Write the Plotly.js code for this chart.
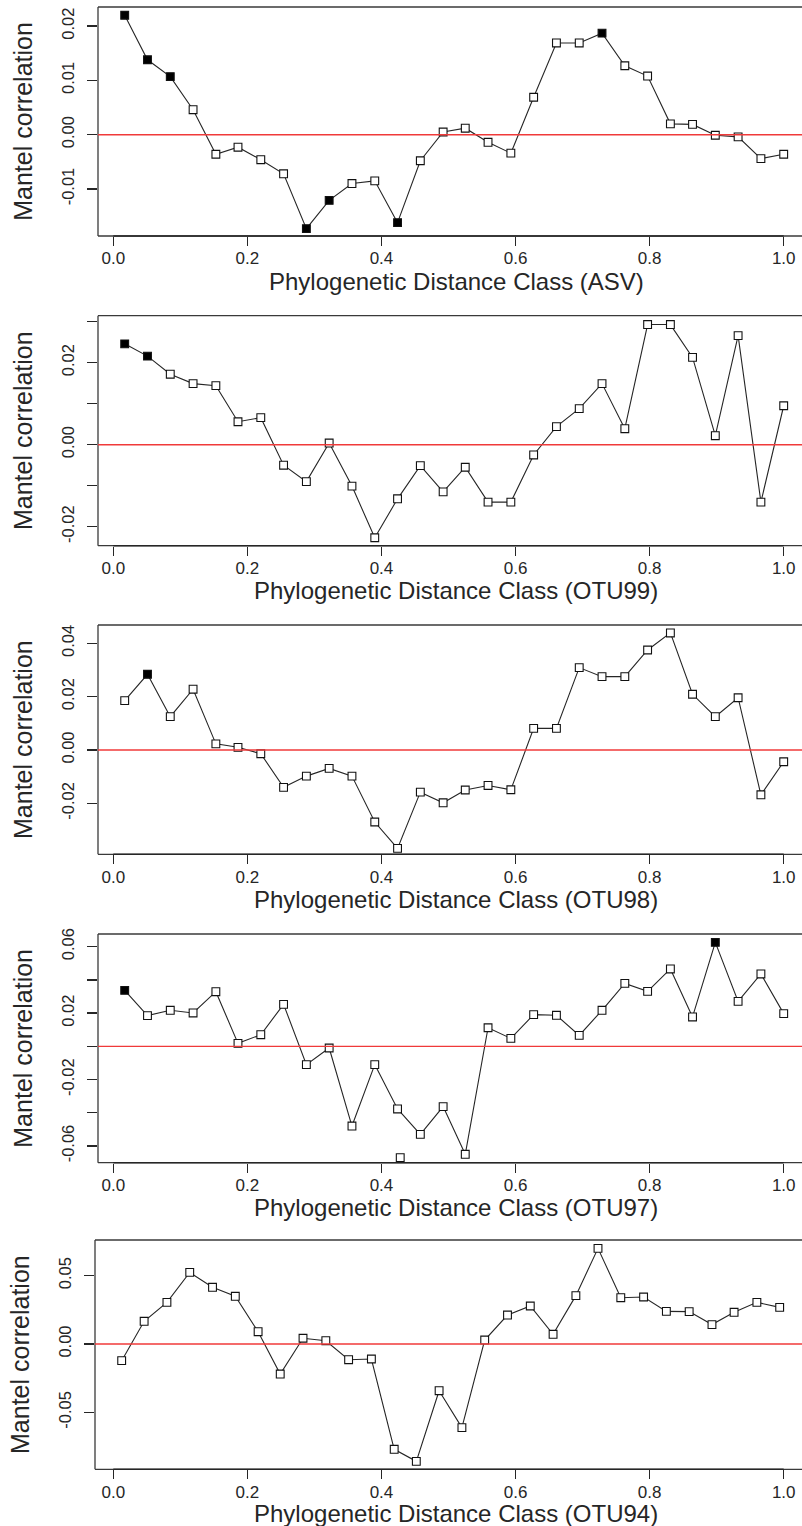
<!DOCTYPE html>
<html><head><meta charset="utf-8">
<script src="https://cdn.plot.ly/plotly-3.0.1.min.js"></script>
<style>html,body{margin:0;padding:0;background:#fff;overflow:hidden}</style>
</head><body><div id="chart" style="width:802px;height:1526px"></div>
<script>
// Distance class midpoints (x)
const distClass = [0.017,0.051,0.085,0.119,0.153,0.186,0.220,0.254,0.288,0.322,0.356,0.390,0.424,0.458,0.492,0.525,0.559,0.593,0.627,0.661,0.695,0.729,0.763,0.797,0.831,0.864,0.898,0.932,0.966,1.000];
const distClassOTU94 = [0.0125,0.046,0.080,0.114,0.148,0.182,0.216,0.249,0.283,0.317,0.351,0.385,0.419,0.452,0.486,0.520,0.554,0.588,0.622,0.656,0.690,0.723,0.757,0.791,0.825,0.859,0.893,0.926,0.960,0.994];

// Mantel correlations
const mantelASV = [0.0220,0.0138,0.0107,0.0046,-0.0036,-0.0023,-0.0046,-0.0072,-0.0173,-0.0121,-0.0090,-0.0085,-0.0162,-0.0048,0.0005,0.0012,-0.0014,-0.0034,0.0069,0.0169,0.0169,0.0187,0.0127,0.0108,0.0020,0.0019,-0.0001,-0.0004,-0.0044,-0.0036];
const mantelOTU99 = [0.0246,0.0216,0.0172,0.0149,0.0144,0.0056,0.0066,-0.0050,-0.0090,0.0004,-0.0101,-0.0227,-0.0132,-0.0051,-0.0115,-0.0055,-0.0140,-0.0140,-0.0025,0.0044,0.0088,0.0149,0.0039,0.0293,0.0293,0.0213,0.0022,0.0266,-0.0140,0.0095];
const mantelOTU98 = [0.0185,0.0284,0.0125,0.0228,0.0023,0.0010,-0.0014,-0.0140,-0.0098,-0.0069,-0.0098,-0.0270,-0.0369,-0.0158,-0.0198,-0.0150,-0.0133,-0.0149,0.0081,0.0081,0.0309,0.0275,0.0275,0.0375,0.0439,0.0209,0.0125,0.0196,-0.0168,-0.0044];
const mantelOTU97 = [0.0337,0.0185,0.0217,0.0201,0.0329,0.0018,0.0070,0.0253,-0.0110,-0.0010,-0.0480,-0.0110,-0.0377,-0.0530,-0.0363,-0.0650,0.0112,0.0048,0.0191,0.0187,0.0066,0.0217,0.0379,0.0331,0.0466,0.0177,0.0626,0.0271,0.0436,0.0197];
const mantelOTU94 = [-0.0122,0.0166,0.0305,0.0524,0.0415,0.0349,0.0090,-0.0220,0.0042,0.0024,-0.0115,-0.0110,-0.0771,-0.0859,-0.0342,-0.0612,0.0029,0.0212,0.0278,0.0071,0.0354,0.0700,0.0339,0.0344,0.0239,0.0237,0.0142,0.0232,0.0305,0.0268];

// Significant classes (1 = filled square)
const signifASV   = [1,1,1,0,0,0,0,0,1,1,0,0,1,0,0,0,0,0,0,0,0,1,0,0,0,0,0,0,0,0];
const signifOTU99 = [1,1,0,0,0,0,0,0,0,0,0,0,0,0,0,0,0,0,0,0,0,0,0,0,0,0,0,0,0,0];
const signifOTU98 = [0,1,0,0,0,0,0,0,0,0,0,0,0,0,0,0,0,0,0,0,0,0,0,0,0,0,0,0,0,0];
const signifOTU97 = [1,0,0,0,0,0,0,0,0,0,0,0,0,0,0,0,0,0,0,0,0,0,0,0,0,0,1,0,0,0];
const signifOTU94 = [0,0,0,0,0,0,0,0,0,0,0,0,0,0,0,0,0,0,0,0,0,0,0,0,0,0,0,0,0,0];

// Extra unconnected square in OTU97 panel
const extraOTU97X = [0.428];
const extraOTU97Y = [-0.0670];

// Labels and ticks
const panelLabels = ['ASV','OTU99','OTU98','OTU97','OTU94'];
const xTitlePrefix = 'Phylogenetic Distance Class';
const yTitle = 'Mantel correlation';
const xTickVals = [0,0.2,0.4,0.6,0.8,1.0];
const xTickText = ['0.0','0.2','0.4','0.6','0.8','1.0'];
const yTickValsASV = [-0.01,0,0.01,0.02];
const yTickTextASV = ['-0.01','0.00','0.01','0.02'];
const yTickValsOTU99 = [-0.02,-0.01,0,0.01,0.02,0.03];
const yTickTextOTU99 = ['-0.02','','0.00','','0.02',''];
const yTickValsOTU98 = [-0.02,0,0.02,0.04];
const yTickTextOTU98 = ['-0.02','0.00','0.02','0.04'];
const yTickValsOTU97 = [-0.06,-0.04,-0.02,0,0.02,0.04,0.06];
const yTickTextOTU97 = ['-0.06','','-0.02','','0.02','','0.06'];
const yTickValsOTU94 = [-0.05,0,0.05];
const yTickTextOTU94 = ['-0.05','0.00','0.05'];

const xData = [distClass, distClass, distClass, distClass, distClassOTU94];
const yData = [mantelASV, mantelOTU99, mantelOTU98, mantelOTU97, mantelOTU94];
const sigData = [signifASV, signifOTU99, signifOTU98, signifOTU97, signifOTU94];
const yTickVals = [yTickValsASV, yTickValsOTU99, yTickValsOTU98, yTickValsOTU97, yTickValsOTU94];
const yTickText = [yTickTextASV, yTickTextOTU99, yTickTextOTU98, yTickTextOTU97, yTickTextOTU94];

// Layout geometry (style only)
const W = 802, H = 1526;
const boxPx = [[98,7,236],[98,315.7,545.7],[98,625,854.3],[98,934,1162.7],[95,1240,1469.3]]; // left, top, bottom
const yRanges = [[-0.018656,0.023517],[-0.024634,0.031463],[-0.039112,0.046875],[-0.07006,0.06765],[-0.09173,0.07613]];
const xTitleGap = [45, 45, 45, 45, 44];
const x0px = 113.3, pxPerUnit = 670.4;

const FONT = 'Liberation Sans, Arial, Helvetica, sans-serif';
const INK = '#262626';

const traces = [];
const layout = {
  width: W, height: H,
  margin: {l:0, r:0, t:0, b:0},
  paper_bgcolor: '#ffffff', plot_bgcolor: '#ffffff',
  showlegend: false,
  font: {family: FONT, color: INK},
  shapes: [],
  annotations: []
};

for (let i = 0; i < 5; i++) {
  const n = i + 1;
  const xa = 'x' + (n === 1 ? '' : n), ya = 'y' + (n === 1 ? '' : n);
  const [left, top, bottom] = boxPx[i];
  const xmin = -(x0px - left) / pxPerUnit;
  const xmax = xmin + (W - left) / pxPerUnit;

  traces.push({
    type: 'scatter', mode: 'lines+markers',
    x: xData[i], y: yData[i], xaxis: xa, yaxis: ya,
    line: {color: INK, width: 1.1},
    marker: {symbol: 'square', size: 7.8,
             color: sigData[i].map(s => s ? '#000000' : '#ffffff'),
             line: {color: '#111111', width: 1.1}},
    hoverinfo: 'x+y'
  });
  if (i === 3) {
    traces.push({
      type: 'scatter', mode: 'markers',
      x: extraOTU97X, y: extraOTU97Y, xaxis: xa, yaxis: ya,
      marker: {symbol: 'square', size: 7.8, color: '#ffffff', line: {color: '#111111', width: 1.1}},
      hoverinfo: 'x+y'
    });
  }

  layout['xaxis' + (n === 1 ? '' : n)] = {
    anchor: ya,
    domain: [left / W, 1],
    range: [xmin, xmax],
    tickvals: xTickVals, ticktext: xTickText,
    ticks: 'outside', ticklen: 9, tickwidth: 1.3, tickcolor: INK,
    tickfont: {size: 17, color: INK, family: FONT},
    ticklabelstandoff: -2,
    showline: false, showgrid: false, zeroline: false,
    automargin: false, fixedrange: true
  };
  layout['yaxis' + (n === 1 ? '' : n)] = {
    anchor: xa,
    domain: [1 - bottom / H, 1 - top / H],
    range: yRanges[i],
    tickvals: yTickVals[i], ticktext: yTickText[i],
    tickangle: -90,
    ticks: 'outside', ticklen: 10, tickwidth: 1.3, tickcolor: INK,
    tickfont: {size: 16.5, color: INK, family: FONT},
    ticklabelstandoff: 6,
    showline: false, showgrid: false, zeroline: false,
    automargin: false, fixedrange: true,
    title: {text: yTitle, font: {size: 25, color: INK, family: FONT}, standoff: 19}
  };

  // x-axis title placed below its panel
  layout.annotations.push({
    text: xTitlePrefix + ' (' + panelLabels[i] + ')',
    xref: 'paper', yref: 'paper',
    x: 456 / W, y: 1 - (bottom + xTitleGap[i]) / H,
    xanchor: 'center', yanchor: 'middle', showarrow: false,
    font: {size: 24, color: INK, family: FONT}
  });

  const xd = xa + ' domain', yd = ya + ' domain';
  // box: top, left, bottom
  layout.shapes.push({type:'line', xref: xd, yref: yd, x0:0, x1:1, y0:1, y1:1, line:{color:'#3a3a3a', width:1.3}});
  layout.shapes.push({type:'line', xref: xd, yref: yd, x0:0, x1:0, y0:0, y1:1, line:{color:'#3a3a3a', width:1.3}});
  layout.shapes.push({type:'line', xref: xd, yref: yd, x0:0, x1:1, y0:0, y1:0, line:{color:'#3a3a3a', width:1.3}});
  // x axis line from first to last tick
  layout.shapes.push({type:'line', xref: xa, yref: yd, x0:xTickVals[0], x1:xTickVals[xTickVals.length-1], y0:0, y1:0, line:{color:INK, width:1.6}});
  // zero reference line
  layout.shapes.push({type:'line', xref: xd, yref: ya, x0:0, x1:1, y0:0, y1:0, line:{color:'#f03a3a', width:1.4}});
}

Plotly.newPlot('chart', traces, layout, {displayModeBar: false, staticPlot: true});
</script></body></html>
